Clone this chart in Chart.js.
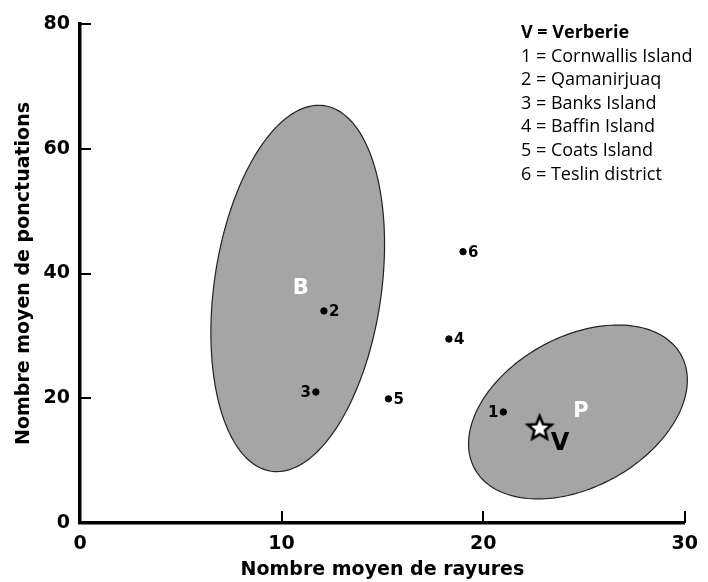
<!DOCTYPE html>
<html>
<head>
<meta charset="utf-8">
<script src="https://cdn.jsdelivr.net/npm/chart.js@4/dist/chart.umd.min.js"></script>
<style>
  html, body { margin: 0; padding: 0; background: #fff; }
  #wrap { width: 708px; height: 582px; }
</style>
</head>
<body>
<div id="wrap"><canvas id="myChart"></canvas></div>
<script>
// sites (mean scratches, mean pits)
const siteLabels = ['1', '2', '3', '4', '5', '6'];
const siteNames = ['Cornwallis Island', 'Qamanirjuaq', 'Banks Island', 'Baffin Island', 'Coats Island', 'Teslin district'];
const siteX = [21.0, 12.1, 11.7, 18.3, 15.3, 19.0];
const siteY = [17.8, 34.0, 21.0, 29.5, 19.9, 43.5];

// Verberie
const verberieX = [22.8];
const verberieY = [15.3];

// group ellipses B and P: centre + two conjugate half-axis vectors, data units
const groupLabels = ['B', 'P'];
const groupCx = [10.8, 24.7];
const groupCy = [37.6, 17.8];
const groupUx = [1.32, 5.14], groupUy = [29.3, 9.0];
const groupVx = [4.10, 1.74], groupVy = [-1.99, -10.65];

const xTicks = [0, 10, 20, 30];
const yTicks = [0, 20, 40, 60, 80];

const BOLDFONT = "'DejaVu Sans', 'Liberation Sans', Arial, sans-serif";
const KEYFONT = "'Open Sans', Lato, sans-serif";

// white star with black outline
function makeStar() {
  const c = document.createElement('canvas');
  c.width = 32; c.height = 32;
  const g = c.getContext('2d');
  g.beginPath();
  for (let i = 0; i < 10; i++) {
    const r = i % 2 === 0 ? 12.5 : 5.6;
    const a = -Math.PI / 2 + i * Math.PI / 5;
    const px = 16 + r * Math.cos(a), py = 17 + r * Math.sin(a);
    if (i === 0) g.moveTo(px, py); else g.lineTo(px, py);
  }
  g.closePath();
  g.fillStyle = '#fff';
  g.fill();
  g.lineWidth = 2.6;
  g.lineJoin = 'miter';
  g.strokeStyle = '#000';
  g.stroke();
  return c;
}

const ellipses = {
  id: 'ellipses',
  beforeDatasetsDraw(chart) {
    const ctx = chart.ctx, xs = chart.scales.x, ys = chart.scales.y;
    ctx.save();
    for (let i = 0; i < groupLabels.length; i++) {
      ctx.beginPath();
      for (let k = 0; k <= 180; k++) {
        const t = k / 180 * Math.PI * 2;
        const dx = groupCx[i] + groupUx[i] * Math.cos(t) + groupVx[i] * Math.sin(t);
        const dy = groupCy[i] + groupUy[i] * Math.cos(t) + groupVy[i] * Math.sin(t);
        const px = xs.getPixelForValue(dx), py = ys.getPixelForValue(dy);
        if (k === 0) ctx.moveTo(px, py); else ctx.lineTo(px, py);
      }
      ctx.closePath();
      ctx.fillStyle = '#a5a5a5';
      ctx.fill();
      ctx.lineWidth = 1.2;
      ctx.strokeStyle = '#222';
      ctx.stroke();
      ctx.fillStyle = '#fff';
      ctx.font = 'bold 21px ' + BOLDFONT;
      ctx.textAlign = 'center';
      ctx.textBaseline = 'middle';
      ctx.fillText(groupLabels[i], xs.getPixelForValue(groupCx[i]) + 3, ys.getPixelForValue(groupCy[i]));
    }
    ctx.restore();
  },
  afterDatasetsDraw(chart) {
    const ctx = chart.ctx;
    ctx.save();
    ctx.fillStyle = '#000';
    ctx.font = 'bold 15px ' + BOLDFONT;
    ctx.textBaseline = 'middle';
    chart.getDatasetMeta(0).data.forEach((pt, i) => {
      if (siteLabels[i] === '1' || siteLabels[i] === '3') {
        ctx.textAlign = 'right';
        ctx.fillText(siteLabels[i], pt.x - 5, pt.y + 1);
      } else {
        ctx.textAlign = 'left';
        ctx.fillText(siteLabels[i], pt.x + 5, pt.y + 1);
      }
    });
    const v = chart.getDatasetMeta(1).data[0];
    ctx.font = 'bold 24px ' + BOLDFONT;
    ctx.textAlign = 'left';
    ctx.fillText('V', v.x + 11, v.y + 16);

    // inward tick marks
    const xs = chart.scales.x, ys = chart.scales.y, a = chart.chartArea;
    ctx.strokeStyle = '#000';
    ctx.lineWidth = 2;
    ctx.beginPath();
    xTicks.slice(1).forEach(t => {
      const px = Math.round(xs.getPixelForValue(t));
      ctx.moveTo(px, a.bottom);
      ctx.lineTo(px, a.bottom - 12);
    });
    yTicks.slice(1).forEach(t => {
      const py = Math.round(ys.getPixelForValue(t));
      ctx.moveTo(a.left, py);
      ctx.lineTo(a.left + 11, py);
    });
    ctx.stroke();

    // key
    ctx.textAlign = 'left';
    ctx.textBaseline = 'alphabetic';
    ctx.font = 'bold 18px ' + KEYFONT;
    ctx.fillText('V = Verberie', 521, 38);
    ctx.font = '18px ' + KEYFONT;
    siteNames.forEach((n, i) => {
      ctx.fillText(siteLabels[i] + ' = ' + n, 521, 61.6 + i * 23.6);
    });
    ctx.restore();
  }
};

new Chart(document.getElementById('myChart'), {
  type: 'scatter',
  data: {
    datasets: [{
      data: siteX.map((x, i) => ({ x: x, y: siteY[i] })),
      backgroundColor: '#000',
      borderColor: '#000',
      pointRadius: 3.2
    }, {
      data: verberieX.map((x, i) => ({ x: x, y: verberieY[i] })),
      pointStyle: makeStar()
    }]
  },
  options: {
    responsive: true,
    maintainAspectRatio: false,
    animation: false,
    layout: { padding: { left: 0, right: 15, top: 24, bottom: 0 } },
    plugins: { legend: { display: false }, tooltip: { enabled: false } },
    scales: {
      x: {
        type: 'linear', min: 0, max: 30,
        afterFit(s) { s.height = 59; },
        afterBuildTicks(s) { s.ticks = xTicks.map(v => ({ value: v })); },
        grid: { display: false, drawTicks: false },
        border: { display: true, color: '#000', width: 3.5 },
        ticks: { color: '#000', padding: 10, font: { family: BOLDFONT, size: 19, weight: 'bold' } },
        title: { display: true, text: 'Nombre moyen de rayures', color: '#000',
                 font: { family: BOLDFONT, size: 19, weight: 'bold' }, padding: { top: 0, bottom: 1 } }
      },
      y: {
        type: 'linear', min: 0, max: 80,
        afterFit(s) { s.width = 80; },
        afterBuildTicks(s) { s.ticks = yTicks.map(v => ({ value: v })); },
        grid: { display: false, drawTicks: false },
        border: { display: true, color: '#000', width: 3.5 },
        ticks: { color: '#000', padding: 10, font: { family: BOLDFONT, size: 19, weight: 'bold' } },
        title: { display: true, text: 'Nombre moyen de ponctuations', color: '#000',
                 font: { family: BOLDFONT, size: 19, weight: 'bold' }, padding: { top: 13, bottom: 0 } }
      }
    }
  },
  plugins: [ellipses]
});
</script>
</body>
</html>
